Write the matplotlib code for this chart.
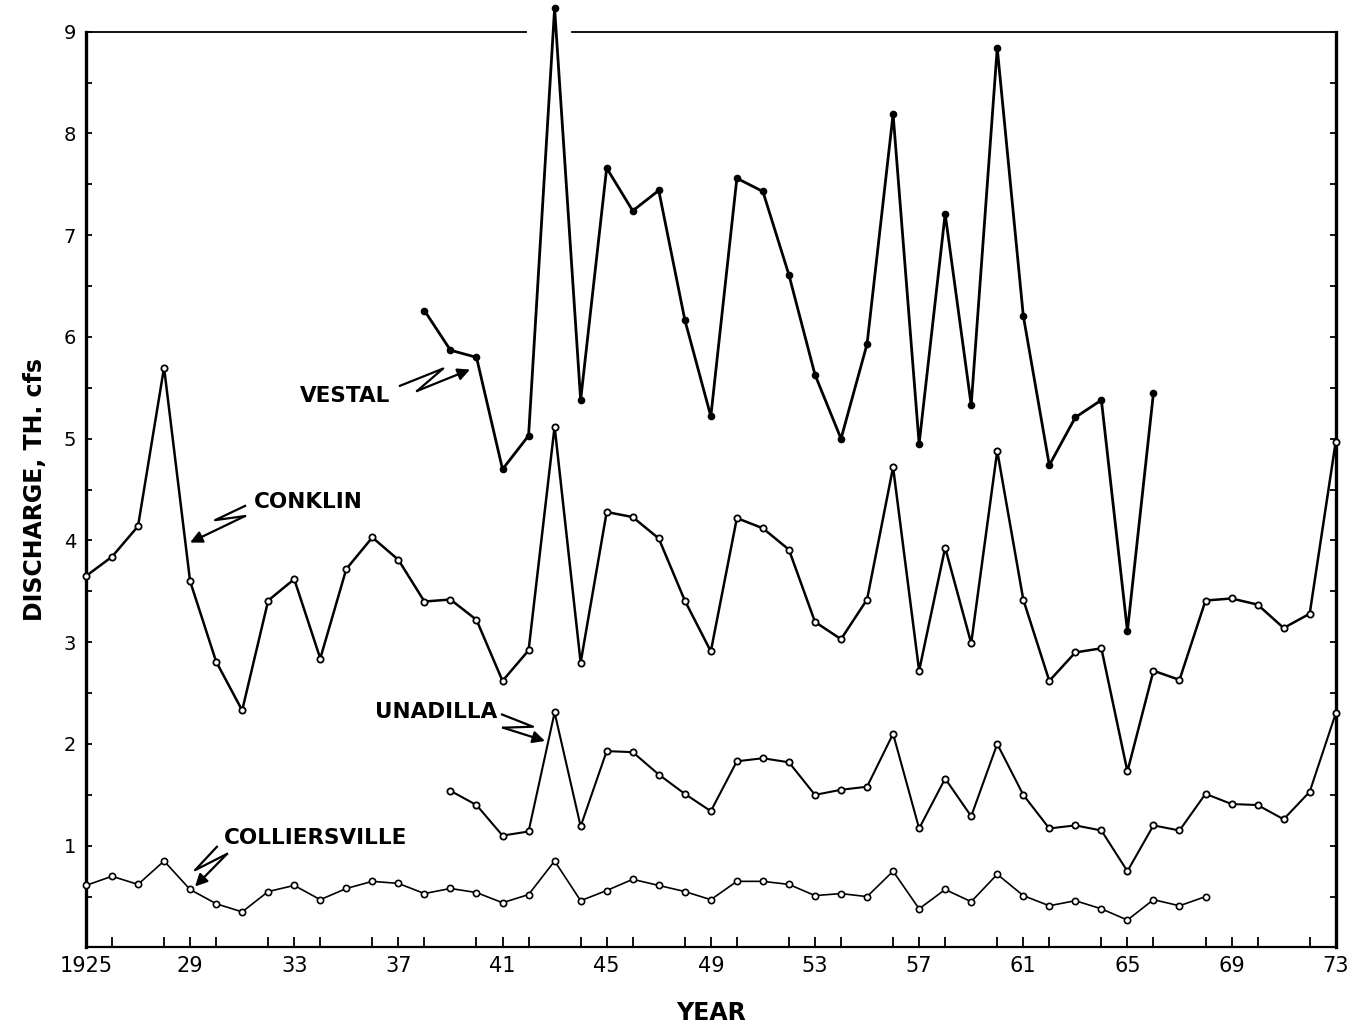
import numpy as np
import matplotlib.pyplot as plt
from matplotlib.ticker import MultipleLocator

# Datos (miles de cfs)
years_conklin = list(range(1925, 1974))
conklin = [3.65, 3.84, 4.14, 5.70, 3.60, 2.81, 2.33, 3.41, 3.62, 2.84,
           3.72, 4.03, 3.81, 3.40, 3.42, 3.22, 2.62, 2.92, 5.12, 2.80,
           4.28, 4.23, 4.02, 3.41, 2.91, 4.22, 4.12, 3.91, 3.20, 3.03,
           3.42, 4.72, 2.72, 3.93, 2.99, 4.88, 3.42, 2.62, 2.90, 2.94,
           1.73, 2.72, 2.63, 3.41, 3.43, 3.37, 3.14, 3.28, 4.97]

years_vestal = list(range(1938, 1967))
vestal = [6.26, 5.87, 5.80, 4.70, 5.03, 9.23, 5.38, 7.66, 7.24, 7.44,
          6.17, 5.22, 7.56, 7.43, 6.61, 5.63, 5.00, 5.93, 8.19, 4.95,
          7.21, 5.33, 8.84, 6.21, 4.74, 5.21, 5.38, 3.11, 5.45]

years_unadilla = list(range(1939, 1974))
unadilla = [1.54, 1.40, 1.10, 1.14, 2.31, 1.19, 1.93, 1.92, 1.70, 1.51,
            1.34, 1.83, 1.86, 1.82, 1.50, 1.55, 1.58, 2.10, 1.17, 1.66,
            1.29, 2.00, 1.50, 1.17, 1.20, 1.15, 0.75, 1.20, 1.15, 1.51,
            1.41, 1.40, 1.26, 1.53, 2.30]

years_colliersville = list(range(1925, 1969))
colliersville = [0.61, 0.70, 0.62, 0.85, 0.57, 0.43, 0.35, 0.55, 0.61, 0.47,
                 0.58, 0.65, 0.63, 0.53, 0.58, 0.54, 0.44, 0.52, 0.85, 0.46,
                 0.56, 0.67, 0.61, 0.55, 0.47, 0.65, 0.65, 0.62, 0.51, 0.53,
                 0.50, 0.75, 0.38, 0.57, 0.45, 0.72, 0.51, 0.41, 0.46, 0.38,
                 0.27, 0.47, 0.41, 0.50]

x_ticks = list(range(1925, 1974, 4))
x_labels = ['1925'] + [str(y)[2:] for y in x_ticks[1:]]
y_ticks = list(range(1, 10))

fig = plt.figure(figsize=(13.62, 10.30), dpi=100)
ax = fig.add_axes([0.0631, 0.0801, 0.9176, 0.8891])

ax.plot(years_vestal, vestal, '-o', color='black', lw=2.0, ms=4.5,
        mfc='black', mec='black', clip_on=False, zorder=3)
ax.plot(years_conklin, conklin, '-o', color='black', lw=1.8, ms=4.5,
        mfc='white', mec='black', mew=1.3, clip_on=False, zorder=3)
ax.plot(years_unadilla, unadilla, '-o', color='black', lw=1.5, ms=4.5,
        mfc='white', mec='black', mew=1.3, clip_on=False, zorder=3)
ax.plot(years_colliersville, colliersville, '-o', color='black', lw=1.2, ms=4.5,
        mfc='white', mec='black', mew=1.2, clip_on=False, zorder=3)

ax.set_xlim(1925, 1973)
ax.set_ylim(0, 9)

# marco: el superior queda cortado por el pico de 1943
ax.spines['top'].set_visible(False)
ax.plot([0, 0.352], [1, 1], transform=ax.transAxes, color='black', lw=1.3, clip_on=False)
ax.plot([0.389, 1], [1, 1], transform=ax.transAxes, color='black', lw=1.3, clip_on=False)
ax.spines['left'].set_linewidth(2.4)
ax.spines['right'].set_linewidth(2.4)
ax.spines['bottom'].set_linewidth(1.6)

ax.set_xticks(x_ticks)
ax.set_xticklabels(x_labels)
ax.xaxis.set_minor_locator(MultipleLocator(2))
ax.set_yticks(y_ticks)
ax.yaxis.set_minor_locator(MultipleLocator(0.5))
ax.tick_params(axis='x', which='both', direction='in', length=7, width=1.3,
               labelsize=15, pad=6)
ax.tick_params(axis='y', which='both', direction='in', length=4, width=1.3,
               right=True, labelsize=14, pad=7)

ax.set_xlabel('YEAR', fontsize=17, fontweight='bold', labelpad=18)
ax.set_ylabel('DISCHARGE, TH. cfs', fontsize=17, fontweight='bold', labelpad=12)

# etiquetas con flecha en zigzag
labels = [
    ('VESTAL', (1934.95, 5.42), [(1937.06, 5.52), (1938.72, 5.69), (1937.72, 5.47)], (1939.75, 5.68)),
    ('CONKLIN', (1933.55, 4.38), [(1931.11, 4.34), (1929.96, 4.20), (1931.11, 4.24)], (1929.0, 3.98)),
    ('UNADILLA', (1938.45, 2.31), [(1940.98, 2.29), (1942.17, 2.17), (1941.02, 2.16)], (1942.63, 2.03)),
    ('COLLIERSVILLE', (1933.8, 1.08), [(1930.03, 0.99), (1929.19, 0.76), (1930.42, 0.92)], (1929.19, 0.60)),
]
for name, pos, zig, tip in labels:
    ax.text(pos[0], pos[1], name, ha='center', va='center', fontsize=15.5,
            fontweight='bold')
    zx, zy = zip(*zig)
    ax.plot(zx, zy, color='black', lw=1.6)
    ax.annotate('', xy=tip, xytext=zig[-1],
                arrowprops=dict(arrowstyle='-|>', color='black', lw=1.6,
                                mutation_scale=18, shrinkA=0, shrinkB=0))

fig.savefig('out.png', dpi=100)
